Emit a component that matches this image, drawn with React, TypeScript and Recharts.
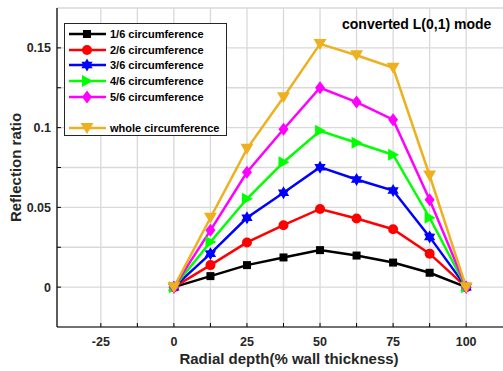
import { LineChart, Line, XAxis, YAxis, CartesianGrid } from 'recharts'

const depth = [0, 12.5, 25, 37.5, 50, 62.5, 75, 87.5, 100]
const oneSixth = [0, 0.0069, 0.0138, 0.0186, 0.0232, 0.0198, 0.0154, 0.009, 0]
const twoSixth = [0, 0.0138, 0.028, 0.0388, 0.049, 0.043, 0.0363, 0.021, 0]
const threeSixth = [0, 0.021, 0.0435, 0.0592, 0.0752, 0.0675, 0.0606, 0.0315, 0]
const fourSixth = [0, 0.0283, 0.0554, 0.0783, 0.098, 0.0905, 0.083, 0.0435, 0]
const fiveSixth = [0, 0.0356, 0.072, 0.099, 0.125, 0.116, 0.105, 0.0548, 0]
const whole = [0, 0.0435, 0.0867, 0.119, 0.1525, 0.1454, 0.1375, 0.07, 0]

const xTicks = [-25, -12.5, 0, 12.5, 25, 37.5, 50, 62.5, 75, 87.5, 100]
const xLabels = [-25, 0, 25, 50, 75, 100]
const yTicks = [0, 0.025, 0.05, 0.075, 0.1, 0.125, 0.15]
const yLabels = [0, 0.05, 0.1, 0.15]

type Shape = 'square' | 'circle' | 'star' | 'right' | 'diamond' | 'down'

const series: { key: string; name: string; color: string; shape: Shape; values: number[] }[] = [
  { key: 's1', name: '1/6 circumference', color: '#000000', shape: 'square', values: oneSixth },
  { key: 's2', name: '2/6 circumference', color: '#ff0000', shape: 'circle', values: twoSixth },
  { key: 's3', name: '3/6 circumference', color: '#0000ff', shape: 'star', values: threeSixth },
  { key: 's4', name: '4/6 circumference', color: '#00ff00', shape: 'right', values: fourSixth },
  { key: 's5', name: '5/6 circumference', color: '#ff00ff', shape: 'diamond', values: fiveSixth },
  { key: 's6', name: 'whole circumference', color: '#edb120', shape: 'down', values: whole },
]

const data = depth.map((x, i) => {
  const row: Record<string, number> = { x }
  series.forEach((s) => {
    row[s.key] = s.values[i]
  })
  return row
})

const FONT = "'Liberation Sans', Arial, sans-serif"
const TEXT = '#262626'

function Marker({ shape, cx, cy, color }: { shape: Shape; cx: number; cy: number; color: string }) {
  if (shape === 'square') {
    return <rect x={cx - 4} y={cy - 4} width={8} height={8} fill={color} />
  }
  if (shape === 'circle') {
    return <circle cx={cx} cy={cy} r={5} fill={color} />
  }
  if (shape === 'star') {
    const pts: string[] = []
    for (let k = 0; k < 12; k++) {
      const r = k % 2 === 0 ? 6.5 : 3.8
      const a = -Math.PI / 2 + (k * Math.PI) / 6
      pts.push(`${cx + r * Math.cos(a)},${cy + r * Math.sin(a)}`)
    }
    return <polygon points={pts.join(' ')} fill={color} />
  }
  if (shape === 'right') {
    return <polygon points={`${cx + 6},${cy} ${cx - 5},${cy - 6} ${cx - 5},${cy + 6}`} fill={color} />
  }
  if (shape === 'diamond') {
    return <polygon points={`${cx},${cy - 6.5} ${cx + 5},${cy} ${cx},${cy + 6.5} ${cx - 5},${cy}`} fill={color} />
  }
  return <polygon points={`${cx - 6.5},${cy - 5} ${cx + 6.5},${cy - 5} ${cx},${cy + 6}`} fill={color} />
}

// eslint-disable-next-line @typescript-eslint/no-explicit-any
const BottomTick = (props: any) => {
  const { x, y, payload } = props
  const v = payload.value
  return (
    <g>
      <line x1={x} y1={y} x2={x} y2={y - 4} stroke="#000" strokeWidth={1} />
      {xLabels.includes(v) && (
        <text x={x} y={y + 19} textAnchor="middle" fontFamily={FONT} fontWeight="bold" fontSize={12.5} fill={TEXT}>
          {v}
        </text>
      )}
    </g>
  )
}

// eslint-disable-next-line @typescript-eslint/no-explicit-any
const TopTick = (props: any) => {
  const { x, y } = props
  return <line x1={x} y1={y} x2={x} y2={y + 4} stroke="#000" strokeWidth={1} />
}

// eslint-disable-next-line @typescript-eslint/no-explicit-any
const LeftTick = (props: any) => {
  const { x, y, payload } = props
  const v = payload.value
  return (
    <g>
      <line x1={x} y1={y} x2={x + 4} y2={y} stroke="#000" strokeWidth={1} />
      {yLabels.includes(v) && (
        <text x={x - 6} y={y} dy="0.35em" textAnchor="end" fontFamily={FONT} fontWeight="bold" fontSize={12.5} fill={TEXT}>
          {v}
        </text>
      )}
    </g>
  )
}

function LegendBox() {
  const rows = [...series.slice(0, 5), null, series[5]]
  return (
    <div
      style={{
        position: 'absolute',
        left: 64,
        top: 23,
        width: 161,
        height: 111,
        background: '#fff',
        border: `1px solid ${TEXT}`,
        fontFamily: FONT,
        fontWeight: 'bold',
        fontSize: 11,
        color: '#000',
      }}
    >
      {rows.map((s, i) =>
        s ? (
          <div key={s.key} style={{ position: 'absolute', left: 0, top: 10 + i * 15.67 - 8, height: 16, width: 160 }}>
            <svg width={44} height={16} style={{ position: 'absolute', left: 0, top: 0 }}>
              <line x1={4} y1={8} x2={41} y2={8} stroke={s.color} strokeWidth={2.5} />
              <Marker shape={s.shape} cx={22} cy={8} color={s.color} />
            </svg>
            <span style={{ position: 'absolute', left: 45, top: 1, whiteSpace: 'nowrap', lineHeight: '14px' }}>{s.name}</span>
          </div>
        ) : null,
      )}
    </div>
  )
}

const labelStyle = {
  position: 'absolute' as const,
  fontFamily: FONT,
  fontWeight: 'bold' as const,
  fontSize: 15,
  color: TEXT,
  whiteSpace: 'nowrap' as const,
  lineHeight: '17px',
  textAlign: 'center' as const,
}

export default function App() {
  return (
    <div style={{ position: 'absolute', left: 0, top: 0, width: 503, height: 371, overflow: 'hidden', background: '#fff' }}>
      <LineChart width={520} height={371} data={data} margin={{ top: 8, right: 10, left: 0, bottom: 0 }}>
        <CartesianGrid stroke="#d9d9d9" strokeWidth={1.3} />
        <XAxis
          dataKey="x"
          type="number"
          domain={[-40, 115]}
          ticks={xTicks}
          interval={0}
          height={44}
          tickSize={0}
          tickMargin={0}
          tickLine={false}
          axisLine={{ stroke: '#000', strokeWidth: 1.2 }}
          tick={<BottomTick />}
        />
        <XAxis
          xAxisId="top"
          orientation="top"
          dataKey="x"
          type="number"
          domain={[-40, 115]}
          ticks={xTicks}
          interval={0}
          height={0}
          tickSize={0}
          tickMargin={0}
          tickLine={false}
          axisLine={{ stroke: '#000', strokeWidth: 1.2 }}
          tick={<TopTick />}
        />
        <YAxis
          type="number"
          domain={[-0.025, 0.175]}
          ticks={yTicks}
          interval={0}
          width={57}
          tickSize={0}
          tickMargin={0}
          tickLine={false}
          axisLine={{ stroke: '#000', strokeWidth: 1.2 }}
          tick={<LeftTick />}
        />
        {series.map((s) => (
          <Line
            key={s.key}
            dataKey={s.key}
            name={s.name}
            type="linear"
            stroke={s.color}
            strokeWidth={2.5}
            isAnimationActive={false}
            // eslint-disable-next-line @typescript-eslint/no-explicit-any
            dot={(p: any) => <Marker key={`${s.key}-${p.index}`} shape={s.shape} cx={p.cx} cy={p.cy} color={s.color} />}
            activeDot={false}
          />
        ))}
      </LineChart>
      <LegendBox />
      <div style={{ ...labelStyle, left: 139, top: 350, width: 300 }}>Radial depth(% wall thickness)</div>
      <div
        style={{
          ...labelStyle,
          left: 15 - 100,
          top: 167 - 8.5,
          width: 200,
          transform: 'rotate(-90deg)',
          transformOrigin: '100px 8.5px',
        }}
      >
        Reflection ratio
      </div>
      <div
        style={{
          position: 'absolute',
          left: 342,
          top: 16,
          fontFamily: FONT,
          fontWeight: 'bold',
          fontSize: 14,
          color: '#000',
          whiteSpace: 'nowrap',
        }}
      >
        converted L(0,1) mode
      </div>
    </div>
  )
}
